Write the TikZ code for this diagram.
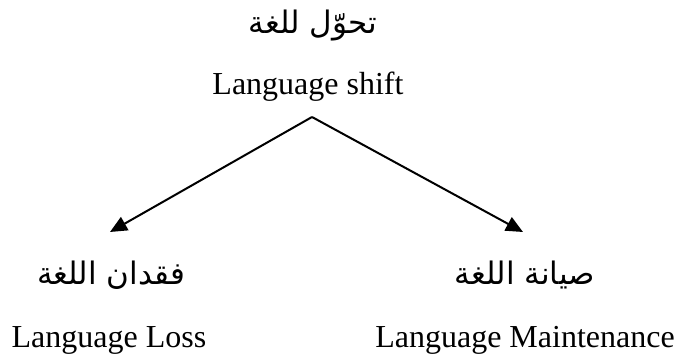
\documentclass[tikz,border=0pt]{standalone}
\usepackage{fontspec}
\setmainfont{Liberation Serif}
\newfontfamily\arabicfont[Script=Arabic]{DejaVu Sans}
\TeXXeTstate=1
\usetikzlibrary{arrows.meta}
\tikzset{
  en/.style={font=\fontsize{32}{38}\selectfont, anchor=base, inner sep=0pt},
  ar/.style={font=\arabicfont\fontsize{31}{36}\selectfont, anchor=base, inner sep=0pt},
  arr/.style={line width=2pt, -{Triangle[length=17pt,width=15pt]}}
}
\begin{document}
\begin{tikzpicture}[x=1pt,y=-1pt]
\useasboundingbox (0,0) rectangle (674,358);
\node[ar] (tar) at (313,34) {\beginR تحوّل للغة\endR};
\node[en] (shift) at (308,95) {Language shift};
\node[ar] (lar) at (111,284) {\beginR فقدان اللغة\endR};
\node[en] (loss) at (109,347) {Language Loss};
\node[ar] (rar) at (525,284) {\beginR صيانة اللغة\endR};
\node[en] (maint) at (525,347) {Language Maintenance};
\coordinate (apex) at (312,117);
\coordinate (ltip) at (110,232);
\coordinate (rtip) at (523,232);
\draw[arr] (apex) -- (ltip);
\draw[arr] (apex) -- (rtip);
\end{tikzpicture}
\end{document}
